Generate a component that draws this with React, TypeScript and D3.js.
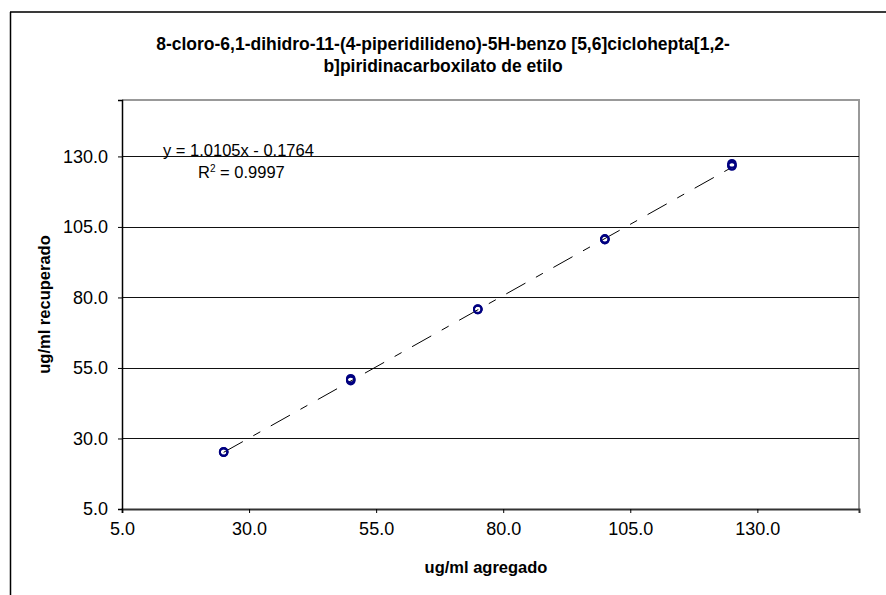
import React, { useRef, useEffect } from "react";
import * as d3 from "d3";

// ug/ml agregado (added) vs ug/ml recuperado (recovered)
const addedValues = [25, 25, 25, 50, 50, 50, 75, 75, 75, 100, 100, 100, 125, 125, 125];
const recoveredValues = [25.2, 25.1, 25.3, 50.5, 51.2, 50.8, 75.8, 75.9, 75.7, 100.6, 100.8, 100.5, 126.8, 127.4, 126.6];
const axisTicks = [5, 30, 55, 80, 105, 130];
const titleLines = [
  "8-cloro-6,1-dihidro-11-(4-piperidilideno)-5H-benzo [5,6]ciclohepta[1,2-",
  "b]piridinacarboxilato de etilo",
];
const slope = 1.0105;
const intercept = -0.1764;
const equationText = "y = 1.0105x - 0.1764";
const r2Value = "0.9997";

function App() {
  const svgRef = useRef(null);

  useEffect(() => {
    const svg = d3.select(svgRef.current);
    svg.selectAll("*").remove();

    const width = 886;
    const height = 595;
    const plot = { left: 122, right: 859, top: 100, bottom: 509 };
    const font = "Liberation Sans, Arial, sans-serif";

    svg.attr("width", width).attr("height", height);

    const x = d3.scaleLinear().domain([5, 150]).range([plot.left, plot.right]);
    const y = d3.scaleLinear().domain([5, 150]).range([plot.bottom, plot.top]);

    // outer chart frame
    svg.append("line").attr("x1", 10).attr("x2", width).attr("y1", 12).attr("y2", 12)
      .attr("stroke", "#3a3a3a").attr("stroke-width", 2);
    svg.append("line").attr("x1", 10.5).attr("x2", 10.5).attr("y1", 12).attr("y2", height)
      .attr("stroke", "#000").attr("stroke-width", 1.5);

    // title
    svg.append("g").selectAll("text")
      .data(titleLines)
      .enter()
      .append("text")
      .attr("x", 443)
      .attr("y", (d, i) => 50 + i * 22)
      .attr("text-anchor", "middle")
      .style("font-family", font)
      .style("font-weight", "bold")
      .style("font-size", "17.5px")
      .text(d => d);

    // plot area border (top, right)
    svg.append("path")
      .attr("d", `M${plot.left},${plot.top}H${plot.right}V${plot.bottom}`)
      .attr("fill", "none")
      .attr("stroke", "#999")
      .attr("stroke-width", 2);

    // gridlines
    svg.append("g").selectAll("line")
      .data(axisTicks.filter(t => t > 5))
      .enter()
      .append("line")
      .attr("x1", plot.left).attr("x2", plot.right)
      .attr("y1", d => Math.round(y(d)) + 0.5).attr("y2", d => Math.round(y(d)) + 0.5)
      .attr("stroke", "#111")
      .attr("stroke-width", 1);

    // x axis
    const xAxis = svg.append("g")
      .attr("transform", `translate(0,${plot.bottom})`)
      .call(d3.axisBottom(x).tickValues(axisTicks).tickSize(4).tickPadding(9).tickFormat(d3.format(".1f")));
    xAxis.select(".domain").attr("stroke", "#333").attr("stroke-width", 2);
    xAxis.selectAll("text").style("font-family", font).style("font-size", "18px").attr("fill", "#000");

    // y axis
    const yAxis = svg.append("g")
      .attr("transform", `translate(${plot.left},0)`)
      .call(d3.axisLeft(y).tickValues(axisTicks).tickSize(4).tickPadding(10).tickFormat(d3.format(".1f")));
    yAxis.select(".domain").attr("stroke", "#000").attr("stroke-width", 1.5);
    yAxis.selectAll("text").style("font-family", font).style("font-size", "18px").attr("fill", "#000");

    // axis titles
    svg.append("text")
      .attr("x", 486)
      .attr("y", 573)
      .attr("text-anchor", "middle")
      .style("font-family", font)
      .style("font-weight", "bold")
      .style("font-size", "16.5px")
      .text("ug/ml agregado");

    svg.append("text")
      .attr("transform", `translate(50,${(plot.top + plot.bottom) / 2}) rotate(-90)`)
      .attr("text-anchor", "middle")
      .style("font-family", font)
      .style("font-weight", "bold")
      .style("font-size", "16.5px")
      .text("ug/ml recuperado");

    // linear trendline
    const xMin = d3.min(addedValues);
    const xMax = d3.max(addedValues);
    svg.append("line")
      .attr("x1", x(xMin)).attr("y1", y(slope * xMin + intercept))
      .attr("x2", x(xMax)).attr("y2", y(slope * xMax + intercept))
      .attr("stroke", "#000")
      .attr("stroke-width", 1)
      .attr("stroke-dasharray", "22,12,8,12");

    // points
    svg.append("g").selectAll("circle")
      .data(addedValues.map((v, i) => ({ added: v, recovered: recoveredValues[i] })))
      .enter()
      .append("circle")
      .attr("cx", d => x(d.added))
      .attr("cy", d => y(d.recovered))
      .attr("r", 3.8)
      .attr("fill", "none")
      .attr("stroke", "#000080")
      .attr("stroke-width", 2);

    // equation labels
    svg.append("text")
      .attr("x", 163).attr("y", 156)
      .style("font-family", font).style("font-size", "16.5px")
      .text(equationText);

    const r2 = svg.append("text")
      .attr("x", 198).attr("y", 178)
      .style("font-family", font).style("font-size", "16.5px");
    r2.append("tspan").text("R");
    r2.append("tspan").attr("dy", -6).style("font-size", "10px").text("2");
    r2.append("tspan").attr("dy", 6).text(` = ${r2Value}`);
  }, []);

  return <svg ref={svgRef} style={{ position: "absolute", left: 0, top: 0 }}></svg>;
}

export default App;
